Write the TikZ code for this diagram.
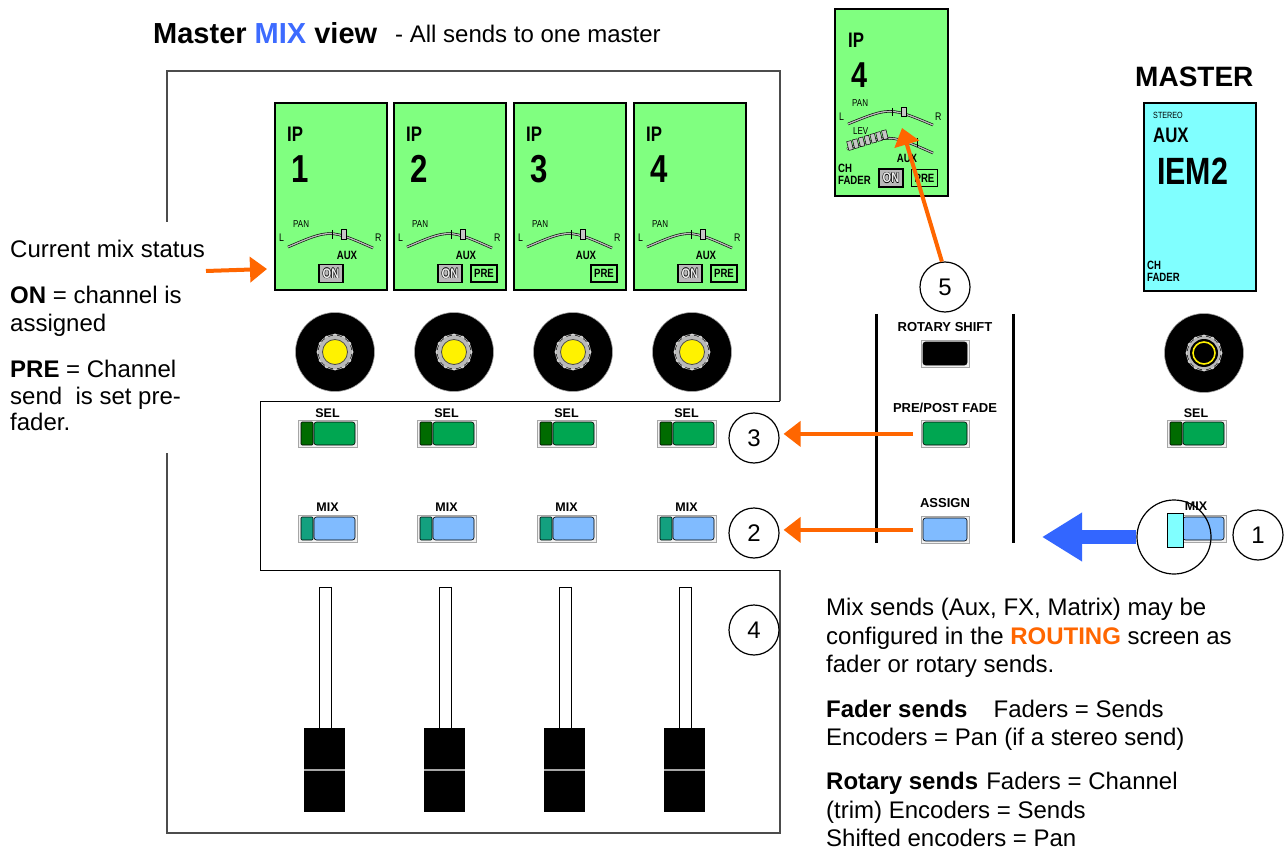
\documentclass[tikz,border=0pt]{standalone}
\usepackage{fontspec}
\setmainfont{Liberation Sans}
\newfontfamily\cond[FakeStretch=0.8]{Liberation Sans}
\usetikzlibrary{arrows.meta,calc}
\definecolor{dispgreen}{HTML}{80FF80}
\definecolor{dispcyan}{HTML}{80FFFF}
\definecolor{selgreen}{HTML}{00A651}
\definecolor{seldark}{HTML}{006B00}
\definecolor{mixblue}{HTML}{80BBFF}
\definecolor{mixteal}{HTML}{13A07F}
\definecolor{orng}{HTML}{FF6600}
\definecolor{bigblue}{HTML}{3366FF}
\definecolor{titleblue}{HTML}{3D6BFF}
\definecolor{keycyan}{HTML}{80FFFF}
\newcommand\myfs[1]{\fontsize{#1}{#1}\selectfont}
\newcommand\outl[1]{\rlap{\kern0.6pt#1}\rlap{\kern-0.6pt#1}\rlap{\raisebox{0.6pt}{#1}}\rlap{\raisebox{-0.6pt}{#1}}\textcolor{white!85!gray}{#1}}
\tikzset{
 txt/.style={inner sep=0pt, anchor=base west},
 ctxt/.style={inner sep=0pt, anchor=base},
 lcdbox/.style={draw, line width=1.8pt, fill=dispgreen, minimum width=112pt, minimum height=187pt, inner sep=0pt, anchor=north west},
 lcdarc/.style={double=gray!55, double distance=1.3pt, line width=0.6pt},
 onbx/.style={draw, line width=1.2pt, fill=gray!55, minimum width=24pt, minimum height=18pt, inner sep=0pt, font=\cond\bfseries\myfs{14}},
 prebx/.style={draw, line width=1.6pt, fill=dispgreen, minimum width=26pt, minimum height=17pt, inner sep=0pt, font=\cond\bfseries\myfs{12}},
 numc/.style={circle, draw, line width=1.2pt, minimum size=50pt, inner sep=0pt, font=\myfs{24}},
 oarrow/.style={draw=orng, line width=4pt, -{Triangle[length=17pt,width=25pt]}},
 btnframe/.style={draw=gray!70, fill=gray!12, line width=0.8pt, inner sep=0pt, minimum width=59pt, minimum height=27pt, anchor=north west},
 keyin/.style={draw=black, line width=0.6pt, rounded corners=2.5pt},
 lbl/.style={inner sep=0pt, anchor=base, font=\bfseries\myfs{12.5}},
 outerln/.style={draw=gray!60!black, line width=1.2pt},
 bodytxt/.style={inner sep=0pt, anchor=base west, font=\myfs{24}}
}
\newcommand\lcd[5]{%
\begin{scope}[shift={(#2,#3)}]
\node[lcdbox] (#1) at (0,0) {};
\node[txt, font=\cond\bfseries\myfs{21}] (#1ip) at (13,40) {IP};
\node[txt, font=\cond\bfseries\myfs{39}] (#1n) at (17,81) {#4};
\node[txt, font=\cond\myfs{10}] (#1pan) at (19,126) {PAN};
\node[txt, font=\cond\myfs{11}] (#1l) at (5,140) {L};
\node[txt, font=\cond\myfs{11}] (#1r) at (101,140) {R};
\draw[lcdarc] (14,145) .. controls (56,127) .. (99,146);
\draw[line width=1pt] (58,128) -- (58,137);
\filldraw[fill=gray!45, line width=0.6pt] (67,127) rectangle (72,137);
\node[ctxt, font=\cond\bfseries\myfs{12}] (#1aux) at (73,158) {AUX};
#5
\end{scope}}
\newcommand\onkey[1]{\node[onbx] (#1on) at (57,171.5) {\outl{ON}};}
\newcommand\prekey[1]{\node[prebx] (#1pre) at (91,171.5) {PRE};}
\newcommand\knobring{%
\fill[gray!55] (0,0) circle (16.5);
\foreach \a in {0,30,...,330} \fill[gray!55] (\a:16.5) circle (2);
\draw[white!80!gray, line width=0.5pt] (0,0) circle (17.5);}
\newcommand\knob[3]{%
\node[circle, fill=black, draw=gray!70, line width=0.6pt, minimum size=79pt, inner sep=0pt] (#1) at (#2,#3) {};
\begin{scope}[shift={(#2,#3)}]
\knobring
\filldraw[fill=yellow, draw=black!70, line width=0.8pt] (0,0) circle (12.5);
\end{scope}}
\newcommand\key[5]{%
\node[btnframe] (#1) at (#2,#3) {};
\filldraw[keyin, fill=#4, rounded corners=1pt] ($(#1.north west)+(3,2)$) rectangle ($(#1.north west)+(15,25)$);
\filldraw[keyin, fill=#5] ($(#1.north west)+(16,2)$) rectangle ($(#1.north west)+(57,25)$);}
\newcommand\fader[2]{%
\node[draw, fill=white, line width=0.8pt, minimum width=12pt, minimum height=141pt, anchor=north west, inner sep=0pt] (#1s) at (#2+15,587) {};
\node[fill=black, minimum width=41pt, minimum height=84pt, anchor=north west, inner sep=0pt] (#1c) at (#2,728) {};
\draw[gray!70, line width=1.8pt] (#1c.west) -- (#1c.east);}
\begin{document}
\begin{tikzpicture}[x=1pt,y=-1pt]
\useasboundingbox (0,0) rectangle (1285,850);
\fill[white] (0,0) rectangle (1285,850);
% title
\node[txt, font=\bfseries\myfs{29}] (title) at (153,44) {Master \textcolor{titleblue}{MIX} view};
\node[txt, font=\myfs{24}] (sub) at (395,43) {- All sends to one master};
% outlines
\draw[outerln] (167,222) -- (167,71) -- (780,71) -- (780,401);
\draw[outerln] (167,453) -- (167,833) -- (780,833) -- (780,570);
\draw[line width=1pt] (780,401) -- (260,401) -- (260,570) -- (780,570);
% displays
\lcd{d1}{274}{102}{1}{\onkey{d1}}
\lcd{d2}{393}{102}{2}{\onkey{d2}\prekey{d2}}
\lcd{d3}{513}{102}{3}{\prekey{d3}}
\lcd{d4}{633}{102}{4}{\onkey{d4}\prekey{d4}}
% knobs
\knob{k1}{335}{352}
\knob{k2}{454}{352}
\knob{k3}{573}{352}
\knob{k4}{692}{352}
% sel / mix keys
\foreach \i/\x in {1/298,2/417,3/537,4/657}{
  \node[lbl] (sl\i) at (\x+29.5,417) {SEL};
  \key{s\i}{\x}{420}{seldark}{selgreen}
  \node[lbl] (ml\i) at (\x+29.5,511) {MIX};
  \key{m\i}{\x}{515}{mixteal}{mixblue}
}
% faders
\fader{f1}{304}
\fader{f2}{424}
\fader{f3}{544}
\fader{f4}{664}
% left text
\node[bodytxt] (t1) at (10,258) {Current mix status};
\node[bodytxt] (t2) at (10,304) {\textbf{ON} = channel is};
\node[bodytxt] (t3) at (10,331) {assigned};
\node[bodytxt] (t4) at (10,377) {\textbf{PRE} = Channel};
\node[bodytxt] (t5) at (10,404) {send\ \ is set pre-};
\node[bodytxt] (t6) at (10,430) {fader.};
\coordinate (a0s) at (206,271);
\coordinate (a0e) at (267,269);
\draw[oarrow] (a0s) -- (a0e);
% center column
\draw[line width=3pt] (876,314) -- (876,543);
\draw[line width=3pt] (1013,314) -- (1013,543);
\node[lbl, font=\bfseries\myfs{13}] (rsl) at (945,331) {ROTARY SHIFT};
\node[btnframe, minimum width=48pt] (rs) at (921,340) {};
\filldraw[keyin, fill=black] ($(rs.north west)+(2,2)$) rectangle ($(rs.north west)+(46,25)$);
\node[lbl, font=\bfseries\myfs{13}] (ppl) at (945,412) {PRE/POST FADE};
\node[btnframe, minimum width=48pt] (pp) at (921,420) {};
\filldraw[keyin, fill=selgreen] ($(pp.north west)+(2,2)$) rectangle ($(pp.north west)+(46,25)$);
\node[lbl, font=\bfseries\myfs{13}] (asl) at (945,507) {ASSIGN};
\node[btnframe, minimum width=48pt] (as) at (921,516) {};
\filldraw[keyin, fill=mixblue] ($(as.north west)+(2,2)$) rectangle ($(as.north west)+(46,25)$);
% number circles
\node[numc] (c1) at (1258,535) {1};
\node[numc] (c2) at (754,533) {2};
\node[numc] (c3) at (754,438) {3};
\node[numc] (c4) at (754,630) {4};
\node[numc] (c5) at (945,287) {5};
\draw[oarrow] ([xshift=-8pt]pp.west) -- ([xshift=4pt]c3.east |- pp.west);
\draw[oarrow] ([xshift=-8pt]as.west) -- ([xshift=4pt]c2.east |- as.west);
% small IP4 display
\begin{scope}[shift={(834,8)}]
\node[lcdbox, minimum width=113pt] (sd) at (0,0) {};
\node[txt, font=\cond\bfseries\myfs{21}] (sdip) at (14,40) {IP};
\node[txt, font=\cond\bfseries\myfs{36}] (sdn) at (17,80) {4};
\node[txt, font=\cond\myfs{10}] (sdpan) at (18,99) {PAN};
\node[txt, font=\cond\myfs{11}] (sdl) at (5,113) {L};
\node[txt, font=\cond\myfs{11}] (sdr) at (101,113) {R};
\draw[lcdarc] (14,116) .. controls (56,99) .. (99,117);
\draw[line width=1pt] (58,100) -- (58,108);
\filldraw[fill=gray!45, line width=0.6pt] (67,99) rectangle (72,108);
\node[txt, font=\cond\myfs{10}] (sdlev) at (19,127) {LEV};
\draw[lcdarc] (13,141) .. controls (56,126) .. (99,145);
\draw[line width=1pt] (83,130) -- (83,139);
\foreach \i in {0,...,6}
  \node[draw, fill=gray!45, line width=0.5pt, minimum width=4.6pt, minimum height=9pt, inner sep=0pt, rotate=14] (lv\i) at (16+5.8*\i,137.5-1.8*\i) {};
\node[ctxt, font=\cond\bfseries\myfs{12}] (sdaux) at (73,155) {AUX};
\node[txt, font=\cond\bfseries\myfs{12}] (sdch) at (4,165) {CH};
\node[txt, font=\cond\bfseries\myfs{12}] (sdfd) at (4,177) {FADER};
\node[onbx] (sdon) at (57,170) {\outl{ON}};
\node[prebx] (sdpre) at (90.5,170) {PRE};
\end{scope}
\coordinate (t5tip) at (902,128);
\draw[oarrow] (c5.97) -- (t5tip);
% master
\node[txt, font=\bfseries\myfs{28}] (mst) at (1135,87) {MASTER};
\node[draw, line width=1.8pt, fill=dispcyan, minimum width=112pt, minimum height=188pt, inner sep=0pt, anchor=north west] (md) at (1143,102) {};
\node[txt, font=\cond\myfs{9}] (mst1) at (1153,119) {STEREO};
\node[txt, font=\cond\bfseries\myfs{21}] (mst2) at (1153,143) {AUX};
\node[txt, font=\cond\bfseries\myfs{38}] (mst3) at (1157,185) {IEM2};
\node[txt, font=\cond\bfseries\myfs{12}] (mst4) at (1147,270) {CH};
\node[txt, font=\cond\bfseries\myfs{12}] (mst5) at (1147,282) {FADER};
\node[circle, fill=black, draw=gray!70, line width=0.6pt, minimum size=79pt, inner sep=0pt] (mk) at (1204,353) {};
\begin{scope}[shift={(1204,353)}]
\knobring
\fill[black] (0,0) circle (14);
\draw[yellow, line width=1.6pt] (0,0) circle (11);
\end{scope}
\node[lbl] (msl) at (1196,417) {SEL};
\key{ms}{1167}{420}{seldark}{selgreen}
\node[lbl] (mml) at (1196,510) {MIX};
\node[btnframe] (mm) at (1167,515) {};
\filldraw[keyin, fill=mixblue] ($(mm.north west)+(16,2)$) rectangle ($(mm.north west)+(57,25)$);
\filldraw[draw=black, line width=0.6pt, fill=keycyan] ($(mm.north west)+(0,-2)$) rectangle ($(mm.north west)+(16,32)$);
\node[circle, draw, line width=1.2pt, minimum size=74pt, inner sep=0pt] (mag) at (1174,537) {};
\coordinate (bt) at (1042,537);
\draw[bigblue, line width=14pt, -{Triangle[length=40pt,width=46pt]}] (mag.west) -- (bt);
% right text
\node[bodytxt] (r1) at (826,615) {Mix sends (Aux, FX, Matrix) may be};
\node[bodytxt] (r2) at (826,644) {configured in the \textcolor{orng}{\textbf{ROUTING}} screen as};
\node[bodytxt] (r3) at (826,672) {fader or rotary sends.};
\node[bodytxt] (r4) at (826,717) {\textbf{Fader sends}\hspace{26pt}Faders = Sends};
\node[bodytxt] (r5) at (826,745) {Encoders = Pan (if a stereo send)};
\node[bodytxt] (r6) at (826,789) {\textbf{Rotary sends}\hspace{8pt}Faders = Channel};
\node[bodytxt] (r7) at (826,818) {(trim) Encoders = Sends};
\node[bodytxt] (r8) at (826,846) {Shifted encoders = Pan};
\end{tikzpicture}
\end{document}
